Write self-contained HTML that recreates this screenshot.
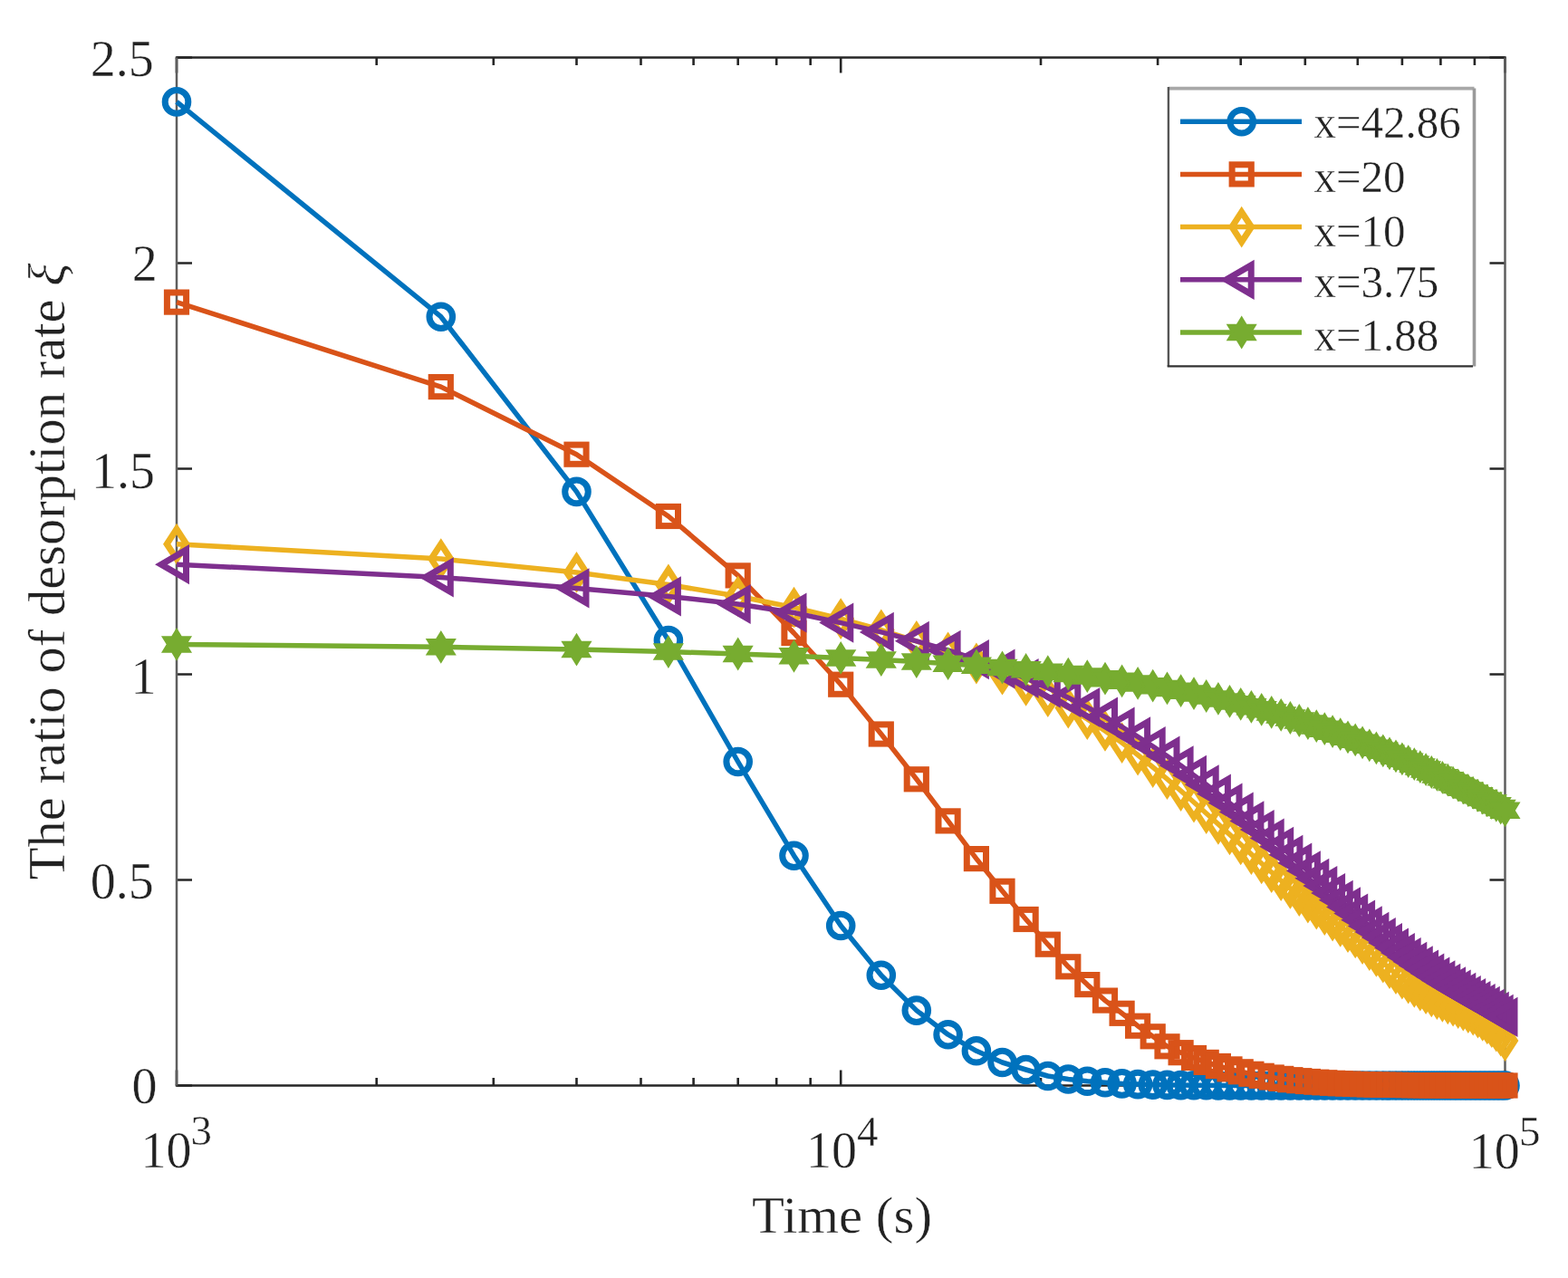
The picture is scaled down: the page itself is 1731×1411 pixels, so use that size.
<!DOCTYPE html>
<html><head><meta charset="utf-8"><title>Ratio of desorption rate vs time</title>
<style>html,body{margin:0;padding:0;background:#fff;overflow:hidden}svg{display:block}
text{font-family:"Liberation Serif","Times New Roman",serif;fill:#222;stroke:#fff;stroke-width:0.4px}</style></head>
<body><svg width="1731" height="1411" viewBox="0 0 1731 1411">
<rect width="1731" height="1411" fill="#fff"/>
<path d="M195 1198.5H212M1661.5 1198.5H1644.5M195 971.5H212M1661.5 971.5H1644.5M195 744.5H212M1661.5 744.5H1644.5M195 517.5H212M1661.5 517.5H1644.5M195 290.5H212M1661.5 290.5H1644.5M195 63.5H212M1661.5 63.5H1644.5M195 1198.5V1181.5M195 63.5V80.5M928.2 1198.5V1181.5M928.2 63.5V80.5M1661.5 1198.5V1181.5M1661.5 63.5V80.5M415.7 1198.5V1190M415.7 63.5V72M544.8 1198.5V1190M544.8 63.5V72M636.5 1198.5V1190M636.5 63.5V72M707.5 1198.5V1190M707.5 63.5V72M765.6 1198.5V1190M765.6 63.5V72M814.7 1198.5V1190M814.7 63.5V72M857.2 1198.5V1190M857.2 63.5V72M894.7 1198.5V1190M894.7 63.5V72M1149 1198.5V1190M1149 63.5V72M1278.1 1198.5V1190M1278.1 63.5V72M1369.7 1198.5V1190M1369.7 63.5V72M1440.8 1198.5V1190M1440.8 63.5V72M1498.8 1198.5V1190M1498.8 63.5V72M1547.9 1198.5V1190M1547.9 63.5V72M1590.4 1198.5V1190M1590.4 63.5V72M1627.9 1198.5V1190M1627.9 63.5V72" stroke="#262626" stroke-width="2.6" fill="none"/>
<path d="M193.8 63.5H1662.7 M193.8 1198.5H1662.7" stroke="#262626" stroke-width="2.5" fill="none"/>
<path d="M195 63.5V1198.5 M1661.5 63.5V1198.5" stroke="#5e5e5e" stroke-width="2.5" fill="none"/>
<g fill="none" stroke="#0072BD" color="#0072BD"><polyline points="195,112.4 486.8,349.7 636.5,542.9 737.9,707 814.7,841 876.5,944.7 928.2,1022 972.8,1076.7 1011.8,1115.6 1046.6,1142.2 1077.9,1160.3 1106.5,1173 1132.6,1181 1156.8,1188 1179.3,1191.5 1200.3,1193.8 1220,1195.3 1238.6,1196.4 1256.1,1197.1 1272.7,1197.6 1288.5,1197.9 1303.6,1198.1 1318,1198.2 1331.7,1198.3 1344.9,1198.4 1357.5,1198.4 1369.7,1198.4 1381.4,1198.5 1392.7,1198.5 1403.7,1198.5 1414.2,1198.5 1424.4,1198.5 1434.3,1198.5 1443.9,1198.5 1453.3,1198.5 1462.3,1198.5 1471.1,1198.5 1479.7,1198.5 1488,1198.5 1496.2,1198.5 1504.1,1198.5 1511.8,1198.5 1519.4,1198.5 1526.8,1198.5 1534,1198.5 1541,1198.5 1547.9,1198.5 1554.7,1198.5 1561.3,1198.5 1567.8,1198.5 1574.1,1198.5 1580.3,1198.5 1586.4,1198.5 1592.4,1198.5 1598.3,1198.5 1604.1,1198.5 1609.7,1198.5 1615.3,1198.5 1620.8,1198.5 1626.2,1198.5 1631.5,1198.5 1636.7,1198.5 1641.8,1198.5 1646.8,1198.5 1651.8,1198.5 1656.7,1198.5 1661.5,1198.5" stroke-width="5.5" stroke-linejoin="round"/><g stroke-width="7.0" stroke-linejoin="miter" stroke-miterlimit="10"><circle cx="195" cy="112.4" r="12.8"/><circle cx="486.8" cy="349.7" r="12.8"/><circle cx="636.5" cy="542.9" r="12.8"/><circle cx="737.9" cy="707" r="12.8"/><circle cx="814.7" cy="841" r="12.8"/><circle cx="876.5" cy="944.7" r="12.8"/><circle cx="928.2" cy="1022" r="12.8"/><circle cx="972.8" cy="1076.7" r="12.8"/><circle cx="1011.8" cy="1115.6" r="12.8"/><circle cx="1046.6" cy="1142.2" r="12.8"/><circle cx="1077.9" cy="1160.3" r="12.8"/><circle cx="1106.5" cy="1173" r="12.8"/><circle cx="1132.6" cy="1181" r="12.8"/><circle cx="1156.8" cy="1188" r="12.8"/><circle cx="1179.3" cy="1191.5" r="12.8"/><circle cx="1200.3" cy="1193.8" r="12.8"/><circle cx="1220" cy="1195.3" r="12.8"/><circle cx="1238.6" cy="1196.4" r="12.8"/><circle cx="1256.1" cy="1197.1" r="12.8"/><circle cx="1272.7" cy="1197.6" r="12.8"/><circle cx="1288.5" cy="1197.9" r="12.8"/><circle cx="1303.6" cy="1198.1" r="12.8"/><circle cx="1318" cy="1198.2" r="12.8"/><circle cx="1331.7" cy="1198.3" r="12.8"/><circle cx="1344.9" cy="1198.4" r="12.8"/><circle cx="1357.5" cy="1198.4" r="12.8"/><circle cx="1369.7" cy="1198.4" r="12.8"/><circle cx="1381.4" cy="1198.5" r="12.8"/><circle cx="1392.7" cy="1198.5" r="12.8"/><circle cx="1403.7" cy="1198.5" r="12.8"/><circle cx="1414.2" cy="1198.5" r="12.8"/><circle cx="1424.4" cy="1198.5" r="12.8"/><circle cx="1434.3" cy="1198.5" r="12.8"/><circle cx="1443.9" cy="1198.5" r="12.8"/><circle cx="1453.3" cy="1198.5" r="12.8"/><circle cx="1462.3" cy="1198.5" r="12.8"/><circle cx="1471.1" cy="1198.5" r="12.8"/><circle cx="1479.7" cy="1198.5" r="12.8"/><circle cx="1488" cy="1198.5" r="12.8"/><circle cx="1496.2" cy="1198.5" r="12.8"/><circle cx="1504.1" cy="1198.5" r="12.8"/><circle cx="1511.8" cy="1198.5" r="12.8"/><circle cx="1519.4" cy="1198.5" r="12.8"/><circle cx="1526.8" cy="1198.5" r="12.8"/><circle cx="1534" cy="1198.5" r="12.8"/><circle cx="1541" cy="1198.5" r="12.8"/><circle cx="1547.9" cy="1198.5" r="12.8"/><circle cx="1554.7" cy="1198.5" r="12.8"/><circle cx="1561.3" cy="1198.5" r="12.8"/><circle cx="1567.8" cy="1198.5" r="12.8"/><circle cx="1574.1" cy="1198.5" r="12.8"/><circle cx="1580.3" cy="1198.5" r="12.8"/><circle cx="1586.4" cy="1198.5" r="12.8"/><circle cx="1592.4" cy="1198.5" r="12.8"/><circle cx="1598.3" cy="1198.5" r="12.8"/><circle cx="1604.1" cy="1198.5" r="12.8"/><circle cx="1609.7" cy="1198.5" r="12.8"/><circle cx="1615.3" cy="1198.5" r="12.8"/><circle cx="1620.8" cy="1198.5" r="12.8"/><circle cx="1626.2" cy="1198.5" r="12.8"/><circle cx="1631.5" cy="1198.5" r="12.8"/><circle cx="1636.7" cy="1198.5" r="12.8"/><circle cx="1641.8" cy="1198.5" r="12.8"/><circle cx="1646.8" cy="1198.5" r="12.8"/><circle cx="1651.8" cy="1198.5" r="12.8"/><circle cx="1656.7" cy="1198.5" r="12.8"/><circle cx="1661.5" cy="1198.5" r="12.8"/></g></g>
<g fill="none" stroke="#D95319" color="#D95319"><polyline points="195,333.6 486.8,427.1 636.5,501.7 737.9,570 814.7,635.4 876.5,699 928.2,755.7 972.8,810.5 1011.8,860.3 1046.6,906.4 1077.9,948.1 1106.5,983.8 1132.6,1015 1156.8,1042.7 1179.3,1067.3 1200.3,1087.1 1220,1104.6 1238.6,1118.8 1256.1,1132.7 1272.7,1144.3 1288.5,1155.3 1303.6,1162.2 1318,1168 1331.7,1172.9 1344.9,1177 1357.5,1180.4 1369.7,1183.3 1381.4,1185.8 1392.7,1187.8 1403.7,1189.5 1414.2,1190.9 1424.4,1192.2 1434.3,1193.2 1443.9,1194 1453.3,1194.7 1462.3,1195.3 1471.1,1195.8 1479.7,1196.3 1488,1196.6 1496.2,1196.9 1504.1,1197.2 1511.8,1197.4 1519.4,1197.6 1526.8,1197.7 1534,1197.8 1541,1197.9 1547.9,1198 1554.7,1198.1 1561.3,1198.2 1567.8,1198.2 1574.1,1198.3 1580.3,1198.3 1586.4,1198.3 1592.4,1198.4 1598.3,1198.4 1604.1,1198.4 1609.7,1198.4 1615.3,1198.4 1620.8,1198.4 1626.2,1198.5 1631.5,1198.5 1636.7,1198.5 1641.8,1198.5 1646.8,1198.5 1651.8,1198.5 1656.7,1198.5 1661.5,1198.5" stroke-width="5.5" stroke-linejoin="round"/><g stroke-width="7.0" stroke-linejoin="miter" stroke-miterlimit="10"><rect x="184.4" y="323" width="21.2" height="21.2"/><rect x="476.2" y="416.5" width="21.2" height="21.2"/><rect x="625.9" y="491.1" width="21.2" height="21.2"/><rect x="727.3" y="559.4" width="21.2" height="21.2"/><rect x="804.1" y="624.8" width="21.2" height="21.2"/><rect x="865.9" y="688.4" width="21.2" height="21.2"/><rect x="917.6" y="745.1" width="21.2" height="21.2"/><rect x="962.2" y="799.9" width="21.2" height="21.2"/><rect x="1001.2" y="849.7" width="21.2" height="21.2"/><rect x="1036" y="895.8" width="21.2" height="21.2"/><rect x="1067.3" y="937.5" width="21.2" height="21.2"/><rect x="1095.9" y="973.2" width="21.2" height="21.2"/><rect x="1122" y="1004.4" width="21.2" height="21.2"/><rect x="1146.2" y="1032.1" width="21.2" height="21.2"/><rect x="1168.7" y="1056.7" width="21.2" height="21.2"/><rect x="1189.7" y="1076.5" width="21.2" height="21.2"/><rect x="1209.4" y="1094" width="21.2" height="21.2"/><rect x="1228" y="1108.2" width="21.2" height="21.2"/><rect x="1245.5" y="1122.1" width="21.2" height="21.2"/><rect x="1262.1" y="1133.7" width="21.2" height="21.2"/><rect x="1277.9" y="1144.7" width="21.2" height="21.2"/><rect x="1293" y="1151.6" width="21.2" height="21.2"/><rect x="1307.4" y="1157.4" width="21.2" height="21.2"/><rect x="1321.1" y="1162.3" width="21.2" height="21.2"/><rect x="1334.3" y="1166.4" width="21.2" height="21.2"/><rect x="1346.9" y="1169.8" width="21.2" height="21.2"/><rect x="1359.1" y="1172.7" width="21.2" height="21.2"/><rect x="1370.8" y="1175.2" width="21.2" height="21.2"/><rect x="1382.1" y="1177.2" width="21.2" height="21.2"/><rect x="1393.1" y="1178.9" width="21.2" height="21.2"/><rect x="1403.6" y="1180.3" width="21.2" height="21.2"/><rect x="1413.8" y="1181.6" width="21.2" height="21.2"/><rect x="1423.7" y="1182.6" width="21.2" height="21.2"/><rect x="1433.3" y="1183.4" width="21.2" height="21.2"/><rect x="1442.7" y="1184.1" width="21.2" height="21.2"/><rect x="1451.7" y="1184.7" width="21.2" height="21.2"/><rect x="1460.5" y="1185.2" width="21.2" height="21.2"/><rect x="1469.1" y="1185.7" width="21.2" height="21.2"/><rect x="1477.4" y="1186" width="21.2" height="21.2"/><rect x="1485.6" y="1186.3" width="21.2" height="21.2"/><rect x="1493.5" y="1186.6" width="21.2" height="21.2"/><rect x="1501.2" y="1186.8" width="21.2" height="21.2"/><rect x="1508.8" y="1187" width="21.2" height="21.2"/><rect x="1516.2" y="1187.1" width="21.2" height="21.2"/><rect x="1523.4" y="1187.2" width="21.2" height="21.2"/><rect x="1530.4" y="1187.3" width="21.2" height="21.2"/><rect x="1537.3" y="1187.4" width="21.2" height="21.2"/><rect x="1544.1" y="1187.5" width="21.2" height="21.2"/><rect x="1550.7" y="1187.6" width="21.2" height="21.2"/><rect x="1557.2" y="1187.6" width="21.2" height="21.2"/><rect x="1563.5" y="1187.7" width="21.2" height="21.2"/><rect x="1569.7" y="1187.7" width="21.2" height="21.2"/><rect x="1575.8" y="1187.7" width="21.2" height="21.2"/><rect x="1581.8" y="1187.8" width="21.2" height="21.2"/><rect x="1587.7" y="1187.8" width="21.2" height="21.2"/><rect x="1593.5" y="1187.8" width="21.2" height="21.2"/><rect x="1599.1" y="1187.8" width="21.2" height="21.2"/><rect x="1604.7" y="1187.8" width="21.2" height="21.2"/><rect x="1610.2" y="1187.8" width="21.2" height="21.2"/><rect x="1615.6" y="1187.9" width="21.2" height="21.2"/><rect x="1620.9" y="1187.9" width="21.2" height="21.2"/><rect x="1626.1" y="1187.9" width="21.2" height="21.2"/><rect x="1631.2" y="1187.9" width="21.2" height="21.2"/><rect x="1636.2" y="1187.9" width="21.2" height="21.2"/><rect x="1641.2" y="1187.9" width="21.2" height="21.2"/><rect x="1646.1" y="1187.9" width="21.2" height="21.2"/><rect x="1650.9" y="1187.9" width="21.2" height="21.2"/></g></g>
<g fill="none" stroke="#EDB120" color="#EDB120"><polyline points="195,600.7 486.8,617.1 636.5,631.9 737.9,645.5 814.7,658.3 876.5,670.7 928.2,683.1 972.8,695.5 1011.8,707.9 1046.6,720.3 1077.9,732.5 1106.5,744.7 1132.6,756.9 1156.8,769.1 1179.3,781.5 1200.3,794 1220,806.9 1238.6,820.1 1256.1,833.5 1272.7,847 1288.5,860.2 1303.6,873.1 1318,885.7 1331.7,898 1344.9,909.9 1357.5,921.4 1369.7,932.4 1381.4,943.1 1392.7,953.3 1403.7,963 1414.2,972.2 1424.4,980.9 1434.3,989 1443.9,996.6 1453.3,1003.6 1462.3,1010.2 1471.1,1016.6 1479.7,1022.8 1488,1029.1 1496.2,1035.4 1504.1,1042.1 1511.8,1049 1519.4,1055.9 1526.8,1062.7 1534,1069.2 1541,1075.2 1547.9,1080.7 1554.7,1085.5 1561.3,1089.8 1567.8,1093.7 1574.1,1097.1 1580.3,1100.3 1586.4,1103.1 1592.4,1105.8 1598.3,1108.3 1604.1,1110.7 1609.7,1113.1 1615.3,1115.5 1620.8,1118.1 1626.2,1120.7 1631.5,1123.6 1636.7,1126.8 1641.8,1130.3 1646.8,1134.2 1651.8,1138.6 1656.7,1143.5 1661.5,1149" stroke-width="5.5" stroke-linejoin="round"/><g stroke-width="7.0" stroke-linejoin="miter" stroke-miterlimit="10"><path d="M195 584.2L205.8 600.7L195 617.2L184.2 600.7Z"/><path d="M486.8 600.6L497.5 617.1L486.8 633.6L476 617.1Z"/><path d="M636.5 615.4L647.2 631.9L636.5 648.4L625.7 631.9Z"/><path d="M737.9 629L748.6 645.5L737.9 662L727.1 645.5Z"/><path d="M814.7 641.8L825.4 658.3L814.7 674.8L803.9 658.3Z"/><path d="M876.5 654.2L887.2 670.7L876.5 687.2L865.7 670.7Z"/><path d="M928.2 666.6L939 683.1L928.2 699.6L917.5 683.1Z"/><path d="M972.8 679L983.5 695.5L972.8 712L962 695.5Z"/><path d="M1011.8 691.4L1022.5 707.9L1011.8 724.4L1001 707.9Z"/><path d="M1046.6 703.8L1057.3 720.3L1046.6 736.8L1035.8 720.3Z"/><path d="M1077.9 716L1088.7 732.5L1077.9 749L1067.2 732.5Z"/><path d="M1106.5 728.2L1117.2 744.7L1106.5 761.2L1095.7 744.7Z"/><path d="M1132.6 740.4L1143.4 756.9L1132.6 773.4L1121.9 756.9Z"/><path d="M1156.8 752.6L1167.6 769.1L1156.8 785.6L1146.1 769.1Z"/><path d="M1179.3 765L1190.1 781.5L1179.3 798L1168.6 781.5Z"/><path d="M1200.3 777.5L1211.1 794L1200.3 810.5L1189.6 794Z"/><path d="M1220 790.4L1230.8 806.9L1220 823.4L1209.3 806.9Z"/><path d="M1238.6 803.6L1249.3 820.1L1238.6 836.6L1227.8 820.1Z"/><path d="M1256.1 817L1266.9 833.5L1256.1 850L1245.4 833.5Z"/><path d="M1272.7 830.5L1283.5 847L1272.7 863.5L1262 847Z"/><path d="M1288.5 843.7L1299.3 860.2L1288.5 876.7L1277.8 860.2Z"/><path d="M1303.6 856.6L1314.3 873.1L1303.6 889.6L1292.8 873.1Z"/><path d="M1318 869.2L1328.7 885.7L1318 902.2L1307.2 885.7Z"/><path d="M1331.7 881.5L1342.5 898L1331.7 914.5L1321 898Z"/><path d="M1344.9 893.4L1355.6 909.9L1344.9 926.4L1334.1 909.9Z"/><path d="M1357.5 904.9L1368.3 921.4L1357.5 937.9L1346.8 921.4Z"/><path d="M1369.7 915.9L1380.5 932.4L1369.7 948.9L1359 932.4Z"/><path d="M1381.4 926.6L1392.2 943.1L1381.4 959.6L1370.7 943.1Z"/><path d="M1392.7 936.8L1403.5 953.3L1392.7 969.8L1382 953.3Z"/><path d="M1403.7 946.5L1414.4 963L1403.7 979.5L1392.9 963Z"/><path d="M1414.2 955.7L1425 972.2L1414.2 988.7L1403.5 972.2Z"/><path d="M1424.4 964.4L1435.2 980.9L1424.4 997.4L1413.7 980.9Z"/><path d="M1434.3 972.5L1445.1 989L1434.3 1005.5L1423.6 989Z"/><path d="M1443.9 980.1L1454.7 996.6L1443.9 1013.1L1433.2 996.6Z"/><path d="M1453.3 987.1L1464 1003.6L1453.3 1020.1L1442.5 1003.6Z"/><path d="M1462.3 993.7L1473.1 1010.2L1462.3 1026.7L1451.6 1010.2Z"/><path d="M1471.1 1000.1L1481.9 1016.6L1471.1 1033.1L1460.4 1016.6Z"/><path d="M1479.7 1006.3L1490.4 1022.8L1479.7 1039.3L1468.9 1022.8Z"/><path d="M1488 1012.6L1498.8 1029.1L1488 1045.6L1477.3 1029.1Z"/><path d="M1496.2 1018.9L1506.9 1035.4L1496.2 1051.9L1485.4 1035.4Z"/><path d="M1504.1 1025.6L1514.8 1042.1L1504.1 1058.6L1493.3 1042.1Z"/><path d="M1511.8 1032.5L1522.6 1049L1511.8 1065.5L1501.1 1049Z"/><path d="M1519.4 1039.4L1530.1 1055.9L1519.4 1072.4L1508.6 1055.9Z"/><path d="M1526.8 1046.2L1537.5 1062.7L1526.8 1079.2L1516 1062.7Z"/><path d="M1534 1052.7L1544.7 1069.2L1534 1085.7L1523.2 1069.2Z"/><path d="M1541 1058.7L1551.8 1075.2L1541 1091.7L1530.3 1075.2Z"/><path d="M1547.9 1064.2L1558.7 1080.7L1547.9 1097.2L1537.2 1080.7Z"/><path d="M1554.7 1069L1565.4 1085.5L1554.7 1102L1543.9 1085.5Z"/><path d="M1561.3 1073.3L1572 1089.8L1561.3 1106.3L1550.5 1089.8Z"/><path d="M1567.8 1077.2L1578.5 1093.7L1567.8 1110.2L1557 1093.7Z"/><path d="M1574.1 1080.6L1584.9 1097.1L1574.1 1113.6L1563.4 1097.1Z"/><path d="M1580.3 1083.8L1591.1 1100.3L1580.3 1116.8L1569.6 1100.3Z"/><path d="M1586.4 1086.6L1597.2 1103.1L1586.4 1119.6L1575.7 1103.1Z"/><path d="M1592.4 1089.3L1603.2 1105.8L1592.4 1122.3L1581.7 1105.8Z"/><path d="M1598.3 1091.8L1609.1 1108.3L1598.3 1124.8L1587.6 1108.3Z"/><path d="M1604.1 1094.2L1614.8 1110.7L1604.1 1127.2L1593.3 1110.7Z"/><path d="M1609.7 1096.6L1620.5 1113.1L1609.7 1129.6L1599 1113.1Z"/><path d="M1615.3 1099L1626.1 1115.5L1615.3 1132L1604.6 1115.5Z"/><path d="M1620.8 1101.6L1631.5 1118.1L1620.8 1134.6L1610 1118.1Z"/><path d="M1626.2 1104.2L1636.9 1120.7L1626.2 1137.2L1615.4 1120.7Z"/><path d="M1631.5 1107.1L1642.2 1123.6L1631.5 1140.1L1620.7 1123.6Z"/><path d="M1636.7 1110.3L1647.4 1126.8L1636.7 1143.3L1625.9 1126.8Z"/><path d="M1641.8 1113.8L1652.5 1130.3L1641.8 1146.8L1631 1130.3Z"/><path d="M1646.8 1117.7L1657.6 1134.2L1646.8 1150.7L1636.1 1134.2Z"/><path d="M1651.8 1122.1L1662.6 1138.6L1651.8 1155.1L1641.1 1138.6Z"/><path d="M1656.7 1127L1667.4 1143.5L1656.7 1160L1645.9 1143.5Z"/><path d="M1661.5 1132.5L1672.2 1149L1661.5 1165.5L1650.8 1149Z"/></g></g>
<g fill="none" stroke="#7E2F8E" color="#7E2F8E"><polyline points="195,623.2 486.8,637.4 636.5,649.4 737.9,658.4 814.7,667 876.5,676.5 928.2,687.6 972.8,697.9 1011.8,707.8 1046.6,717.9 1077.9,728.1 1106.5,738.5 1132.6,749 1156.8,759.6 1179.3,770.2 1200.3,781 1220,791.7 1238.6,802.5 1256.1,813.3 1272.7,824 1288.5,834.7 1303.6,845.3 1318,855.9 1331.7,866.3 1344.9,876.5 1357.5,886.6 1369.7,896.6 1381.4,906.4 1392.7,916 1403.7,925.5 1414.2,934.8 1424.4,943.8 1434.3,952.7 1443.9,961.4 1453.3,969.8 1462.3,978.1 1471.1,986.1 1479.7,993.8 1488,1001.4 1496.2,1008.6 1504.1,1015.7 1511.8,1022.4 1519.4,1028.9 1526.8,1035.1 1534,1041 1541,1046.6 1547.9,1052 1554.7,1057 1561.3,1061.8 1567.8,1066.3 1574.1,1070.6 1580.3,1074.7 1586.4,1078.6 1592.4,1082.4 1598.3,1085.9 1604.1,1089.4 1609.7,1092.7 1615.3,1095.9 1620.8,1099 1626.2,1102 1631.5,1105 1636.7,1108 1641.8,1110.9 1646.8,1113.9 1651.8,1116.8 1656.7,1119.8 1661.5,1122.8" stroke-width="5.5" stroke-linejoin="round"/><g stroke-width="7.0" stroke-linejoin="miter" stroke-miterlimit="10"><path d="M178 623.2L205.5 607.2L205.5 639.2Z"/><path d="M469.8 637.4L497.3 621.4L497.3 653.4Z"/><path d="M619.5 649.4L647 633.4L647 665.4Z"/><path d="M720.9 658.4L748.4 642.4L748.4 674.4Z"/><path d="M797.7 667L825.2 651L825.2 683Z"/><path d="M859.5 676.5L887 660.5L887 692.5Z"/><path d="M911.2 687.6L938.8 671.6L938.8 703.6Z"/><path d="M955.8 697.9L983.3 681.9L983.3 713.9Z"/><path d="M994.8 707.8L1022.3 691.8L1022.3 723.8Z"/><path d="M1029.6 717.9L1057.1 701.9L1057.1 733.9Z"/><path d="M1060.9 728.1L1088.4 712.1L1088.4 744.1Z"/><path d="M1089.5 738.5L1117 722.5L1117 754.5Z"/><path d="M1115.6 749L1143.1 733L1143.1 765Z"/><path d="M1139.8 759.6L1167.3 743.6L1167.3 775.6Z"/><path d="M1162.3 770.2L1189.8 754.2L1189.8 786.2Z"/><path d="M1183.3 781L1210.8 765L1210.8 797Z"/><path d="M1203 791.7L1230.5 775.7L1230.5 807.7Z"/><path d="M1221.6 802.5L1249.1 786.5L1249.1 818.5Z"/><path d="M1239.1 813.3L1266.6 797.3L1266.6 829.3Z"/><path d="M1255.7 824L1283.2 808L1283.2 840Z"/><path d="M1271.5 834.7L1299 818.7L1299 850.7Z"/><path d="M1286.6 845.3L1314.1 829.3L1314.1 861.3Z"/><path d="M1301 855.9L1328.5 839.9L1328.5 871.9Z"/><path d="M1314.7 866.3L1342.2 850.3L1342.2 882.3Z"/><path d="M1327.9 876.5L1355.4 860.5L1355.4 892.5Z"/><path d="M1340.5 886.6L1368 870.6L1368 902.6Z"/><path d="M1352.7 896.6L1380.2 880.6L1380.2 912.6Z"/><path d="M1364.4 906.4L1391.9 890.4L1391.9 922.4Z"/><path d="M1375.7 916L1403.2 900L1403.2 932Z"/><path d="M1386.7 925.5L1414.2 909.5L1414.2 941.5Z"/><path d="M1397.2 934.8L1424.7 918.8L1424.7 950.8Z"/><path d="M1407.4 943.8L1434.9 927.8L1434.9 959.8Z"/><path d="M1417.3 952.7L1444.8 936.7L1444.8 968.7Z"/><path d="M1426.9 961.4L1454.4 945.4L1454.4 977.4Z"/><path d="M1436.3 969.8L1463.8 953.8L1463.8 985.8Z"/><path d="M1445.3 978.1L1472.8 962.1L1472.8 994.1Z"/><path d="M1454.1 986.1L1481.6 970.1L1481.6 1002.1Z"/><path d="M1462.7 993.8L1490.2 977.8L1490.2 1009.8Z"/><path d="M1471 1001.4L1498.5 985.4L1498.5 1017.4Z"/><path d="M1479.2 1008.6L1506.7 992.6L1506.7 1024.6Z"/><path d="M1487.1 1015.7L1514.6 999.7L1514.6 1031.7Z"/><path d="M1494.8 1022.4L1522.3 1006.4L1522.3 1038.4Z"/><path d="M1502.4 1028.9L1529.9 1012.9L1529.9 1044.9Z"/><path d="M1509.8 1035.1L1537.3 1019.1L1537.3 1051.1Z"/><path d="M1517 1041L1544.5 1025L1544.5 1057Z"/><path d="M1524 1046.6L1551.5 1030.6L1551.5 1062.6Z"/><path d="M1530.9 1052L1558.4 1036L1558.4 1068Z"/><path d="M1537.7 1057L1565.2 1041L1565.2 1073Z"/><path d="M1544.3 1061.8L1571.8 1045.8L1571.8 1077.8Z"/><path d="M1550.8 1066.3L1578.3 1050.3L1578.3 1082.3Z"/><path d="M1557.1 1070.6L1584.6 1054.6L1584.6 1086.6Z"/><path d="M1563.3 1074.7L1590.8 1058.7L1590.8 1090.7Z"/><path d="M1569.4 1078.6L1596.9 1062.6L1596.9 1094.6Z"/><path d="M1575.4 1082.4L1602.9 1066.4L1602.9 1098.4Z"/><path d="M1581.3 1085.9L1608.8 1069.9L1608.8 1101.9Z"/><path d="M1587.1 1089.4L1614.6 1073.4L1614.6 1105.4Z"/><path d="M1592.7 1092.7L1620.2 1076.7L1620.2 1108.7Z"/><path d="M1598.3 1095.9L1625.8 1079.9L1625.8 1111.9Z"/><path d="M1603.8 1099L1631.3 1083L1631.3 1115Z"/><path d="M1609.2 1102L1636.7 1086L1636.7 1118Z"/><path d="M1614.5 1105L1642 1089L1642 1121Z"/><path d="M1619.7 1108L1647.2 1092L1647.2 1124Z"/><path d="M1624.8 1110.9L1652.3 1094.9L1652.3 1126.9Z"/><path d="M1629.8 1113.9L1657.3 1097.9L1657.3 1129.9Z"/><path d="M1634.8 1116.8L1662.3 1100.8L1662.3 1132.8Z"/><path d="M1639.7 1119.8L1667.2 1103.8L1667.2 1135.8Z"/><path d="M1644.5 1122.8L1672 1106.8L1672 1138.8Z"/></g></g>
<g fill="none" stroke="#77AC30" color="#77AC30"><polyline points="195,711.4 486.8,714.3 636.5,717.1 737.9,719.6 814.7,722 876.5,724.3 928.2,726.4 972.8,728.5 1011.8,730.6 1046.6,732.7 1077.9,734.8 1106.5,737 1132.6,739.3 1156.8,741.7 1179.3,744.1 1200.3,746.6 1220,749.2 1238.6,751.8 1256.1,754.4 1272.7,757.2 1288.5,759.9 1303.6,762.7 1318,765.6 1331.7,768.5 1344.9,771.4 1357.5,774.4 1369.7,777.3 1381.4,780.3 1392.7,783.3 1403.7,786.4 1414.2,789.4 1424.4,792.5 1434.3,795.5 1443.9,798.6 1453.3,801.6 1462.3,804.7 1471.1,807.7 1479.7,810.7 1488,813.8 1496.2,816.8 1504.1,819.8 1511.8,822.8 1519.4,825.8 1526.8,828.8 1534,831.8 1541,834.8 1547.9,837.8 1554.7,840.7 1561.3,843.7 1567.8,846.6 1574.1,849.6 1580.3,852.5 1586.4,855.4 1592.4,858.3 1598.3,861.2 1604.1,864.1 1609.7,866.9 1615.3,869.8 1620.8,872.6 1626.2,875.4 1631.5,878.3 1636.7,881.1 1641.8,883.8 1646.8,886.6 1651.8,889.3 1656.7,892.1 1661.5,894.8" stroke-width="5.5" stroke-linejoin="round"/><g stroke-width="7.0" stroke-linejoin="miter" stroke-miterlimit="10"><path fill="currentColor" stroke-width="2.5" d="M195 695.4L190.1 703.4L180.2 703.4L185.1 711.4L180.2 719.4L190.1 719.4L195 727.4L199.9 719.4L209.8 719.4L204.9 711.4L209.8 703.4L199.9 703.4Z"/><path fill="currentColor" stroke-width="2.5" d="M486.8 698.3L481.8 706.3L472 706.3L476.9 714.3L472 722.3L481.8 722.3L486.8 730.3L491.7 722.3L501.6 722.3L496.7 714.3L501.6 706.3L491.7 706.3Z"/><path fill="currentColor" stroke-width="2.5" d="M636.5 701.1L631.5 709.1L621.6 709.1L626.6 717.1L621.6 725.1L631.5 725.1L636.5 733.1L641.4 725.1L651.3 725.1L646.3 717.1L651.3 709.1L641.4 709.1Z"/><path fill="currentColor" stroke-width="2.5" d="M737.9 703.6L732.9 711.6L723 711.6L728 719.6L723 727.6L732.9 727.6L737.9 735.6L742.8 727.6L752.7 727.6L747.8 719.6L752.7 711.6L742.8 711.6Z"/><path fill="currentColor" stroke-width="2.5" d="M814.7 706L809.7 714L799.8 714L804.8 722L799.8 730L809.7 730L814.7 738L819.6 730L829.5 730L824.6 722L829.5 714L819.6 714Z"/><path fill="currentColor" stroke-width="2.5" d="M876.5 708.3L871.6 716.3L861.7 716.3L866.6 724.3L861.7 732.3L871.6 732.3L876.5 740.3L881.4 732.3L891.3 732.3L886.4 724.3L891.3 716.3L881.4 716.3Z"/><path fill="currentColor" stroke-width="2.5" d="M928.2 710.4L923.3 718.4L913.4 718.4L918.4 726.4L913.4 734.4L923.3 734.4L928.2 742.4L933.2 734.4L943.1 734.4L938.1 726.4L943.1 718.4L933.2 718.4Z"/><path fill="currentColor" stroke-width="2.5" d="M972.8 712.5L967.8 720.5L957.9 720.5L962.9 728.5L957.9 736.5L967.8 736.5L972.8 744.5L977.7 736.5L987.6 736.5L982.6 728.5L987.6 720.5L977.7 720.5Z"/><path fill="currentColor" stroke-width="2.5" d="M1011.8 714.6L1006.9 722.6L997 722.6L1001.9 730.6L997 738.6L1006.9 738.6L1011.8 746.6L1016.7 738.6L1026.6 738.6L1021.7 730.6L1026.6 722.6L1016.7 722.6Z"/><path fill="currentColor" stroke-width="2.5" d="M1046.6 716.7L1041.6 724.7L1031.7 724.7L1036.7 732.7L1031.7 740.7L1041.6 740.7L1046.6 748.7L1051.5 740.7L1061.4 740.7L1056.5 732.7L1061.4 724.7L1051.5 724.7Z"/><path fill="currentColor" stroke-width="2.5" d="M1077.9 718.8L1073 726.8L1063.1 726.8L1068 734.8L1063.1 742.8L1073 742.8L1077.9 750.8L1082.9 742.8L1092.7 742.8L1087.8 734.8L1092.7 726.8L1082.9 726.8Z"/><path fill="currentColor" stroke-width="2.5" d="M1106.5 721L1101.5 729L1091.6 729L1096.6 737L1091.6 745L1101.5 745L1106.5 753L1111.4 745L1121.3 745L1116.3 737L1121.3 729L1111.4 729Z"/><path fill="currentColor" stroke-width="2.5" d="M1132.6 723.3L1127.7 731.3L1117.8 731.3L1122.8 739.3L1117.8 747.3L1127.7 747.3L1132.6 755.3L1137.6 747.3L1147.5 747.3L1142.5 739.3L1147.5 731.3L1137.6 731.3Z"/><path fill="currentColor" stroke-width="2.5" d="M1156.8 725.7L1151.9 733.7L1142 733.7L1147 741.7L1142 749.7L1151.9 749.7L1156.8 757.7L1161.8 749.7L1171.7 749.7L1166.7 741.7L1171.7 733.7L1161.8 733.7Z"/><path fill="currentColor" stroke-width="2.5" d="M1179.3 728.1L1174.4 736.1L1164.5 736.1L1169.4 744.1L1164.5 752.1L1174.4 752.1L1179.3 760.1L1184.3 752.1L1194.2 752.1L1189.2 744.1L1194.2 736.1L1184.3 736.1Z"/><path fill="currentColor" stroke-width="2.5" d="M1200.3 730.6L1195.4 738.6L1185.5 738.6L1190.5 746.6L1185.5 754.6L1195.4 754.6L1200.3 762.6L1205.3 754.6L1215.2 754.6L1210.2 746.6L1215.2 738.6L1205.3 738.6Z"/><path fill="currentColor" stroke-width="2.5" d="M1220 733.2L1215.1 741.2L1205.2 741.2L1210.2 749.2L1205.2 757.2L1215.1 757.2L1220 765.2L1225 757.2L1234.9 757.2L1229.9 749.2L1234.9 741.2L1225 741.2Z"/><path fill="currentColor" stroke-width="2.5" d="M1238.6 735.8L1233.7 743.8L1223.8 743.8L1228.7 751.8L1223.8 759.8L1233.7 759.8L1238.6 767.8L1243.5 759.8L1253.4 759.8L1248.5 751.8L1253.4 743.8L1243.5 743.8Z"/><path fill="currentColor" stroke-width="2.5" d="M1256.1 738.4L1251.2 746.4L1241.3 746.4L1246.2 754.4L1241.3 762.4L1251.2 762.4L1256.1 770.4L1261.1 762.4L1271 762.4L1266 754.4L1271 746.4L1261.1 746.4Z"/><path fill="currentColor" stroke-width="2.5" d="M1272.7 741.2L1267.8 749.2L1257.9 749.2L1262.9 757.2L1257.9 765.2L1267.8 765.2L1272.7 773.2L1277.7 765.2L1287.6 765.2L1282.6 757.2L1287.6 749.2L1277.7 749.2Z"/><path fill="currentColor" stroke-width="2.5" d="M1288.5 743.9L1283.6 751.9L1273.7 751.9L1278.7 759.9L1273.7 767.9L1283.6 767.9L1288.5 775.9L1293.5 767.9L1303.4 767.9L1298.4 759.9L1303.4 751.9L1293.5 751.9Z"/><path fill="currentColor" stroke-width="2.5" d="M1303.6 746.7L1298.6 754.7L1288.8 754.7L1293.7 762.7L1288.8 770.7L1298.6 770.7L1303.6 778.7L1308.5 770.7L1318.4 770.7L1313.5 762.7L1318.4 754.7L1308.5 754.7Z"/><path fill="currentColor" stroke-width="2.5" d="M1318 749.6L1313 757.6L1303.1 757.6L1308.1 765.6L1303.1 773.6L1313 773.6L1318 781.6L1322.9 773.6L1332.8 773.6L1327.8 765.6L1332.8 757.6L1322.9 757.6Z"/><path fill="currentColor" stroke-width="2.5" d="M1331.7 752.5L1326.8 760.5L1316.9 760.5L1321.8 768.5L1316.9 776.5L1326.8 776.5L1331.7 784.5L1336.6 776.5L1346.5 776.5L1341.6 768.5L1346.5 760.5L1336.6 760.5Z"/><path fill="currentColor" stroke-width="2.5" d="M1344.9 755.4L1339.9 763.4L1330.1 763.4L1335 771.4L1330.1 779.4L1339.9 779.4L1344.9 787.4L1349.8 779.4L1359.7 779.4L1354.8 771.4L1359.7 763.4L1349.8 763.4Z"/><path fill="currentColor" stroke-width="2.5" d="M1357.5 758.4L1352.6 766.4L1342.7 766.4L1347.7 774.4L1342.7 782.4L1352.6 782.4L1357.5 790.4L1362.5 782.4L1372.4 782.4L1367.4 774.4L1372.4 766.4L1362.5 766.4Z"/><path fill="currentColor" stroke-width="2.5" d="M1369.7 761.3L1364.8 769.3L1354.9 769.3L1359.8 777.3L1354.9 785.3L1364.8 785.3L1369.7 793.3L1374.7 785.3L1384.5 785.3L1379.6 777.3L1384.5 769.3L1374.7 769.3Z"/><path fill="currentColor" stroke-width="2.5" d="M1381.4 764.3L1376.5 772.3L1366.6 772.3L1371.5 780.3L1366.6 788.3L1376.5 788.3L1381.4 796.3L1386.4 788.3L1396.3 788.3L1391.3 780.3L1396.3 772.3L1386.4 772.3Z"/><path fill="currentColor" stroke-width="2.5" d="M1392.7 767.3L1387.8 775.3L1377.9 775.3L1382.9 783.3L1377.9 791.3L1387.8 791.3L1392.7 799.3L1397.7 791.3L1407.6 791.3L1402.6 783.3L1407.6 775.3L1397.7 775.3Z"/><path fill="currentColor" stroke-width="2.5" d="M1403.7 770.4L1398.7 778.4L1388.8 778.4L1393.8 786.4L1388.8 794.4L1398.7 794.4L1403.7 802.4L1408.6 794.4L1418.5 794.4L1413.5 786.4L1418.5 778.4L1408.6 778.4Z"/><path fill="currentColor" stroke-width="2.5" d="M1414.2 773.4L1409.3 781.4L1399.4 781.4L1404.3 789.4L1399.4 797.4L1409.3 797.4L1414.2 805.4L1419.2 797.4L1429 797.4L1424.1 789.4L1429 781.4L1419.2 781.4Z"/><path fill="currentColor" stroke-width="2.5" d="M1424.4 776.5L1419.5 784.5L1409.6 784.5L1414.6 792.5L1409.6 800.5L1419.5 800.5L1424.4 808.5L1429.4 800.5L1439.3 800.5L1434.3 792.5L1439.3 784.5L1429.4 784.5Z"/><path fill="currentColor" stroke-width="2.5" d="M1434.3 779.5L1429.4 787.5L1419.5 787.5L1424.5 795.5L1419.5 803.5L1429.4 803.5L1434.3 811.5L1439.3 803.5L1449.2 803.5L1444.2 795.5L1449.2 787.5L1439.3 787.5Z"/><path fill="currentColor" stroke-width="2.5" d="M1443.9 782.6L1439 790.6L1429.1 790.6L1434.1 798.6L1429.1 806.6L1439 806.6L1443.9 814.6L1448.9 806.6L1458.8 806.6L1453.8 798.6L1458.8 790.6L1448.9 790.6Z"/><path fill="currentColor" stroke-width="2.5" d="M1453.3 785.6L1448.3 793.6L1438.4 793.6L1443.4 801.6L1438.4 809.6L1448.3 809.6L1453.3 817.6L1458.2 809.6L1468.1 809.6L1463.1 801.6L1468.1 793.6L1458.2 793.6Z"/><path fill="currentColor" stroke-width="2.5" d="M1462.3 788.7L1457.4 796.7L1447.5 796.7L1452.4 804.7L1447.5 812.7L1457.4 812.7L1462.3 820.7L1467.3 812.7L1477.1 812.7L1472.2 804.7L1477.1 796.7L1467.3 796.7Z"/><path fill="currentColor" stroke-width="2.5" d="M1471.1 791.7L1466.2 799.7L1456.3 799.7L1461.2 807.7L1456.3 815.7L1466.2 815.7L1471.1 823.7L1476.1 815.7L1485.9 815.7L1481 807.7L1485.9 799.7L1476.1 799.7Z"/><path fill="currentColor" stroke-width="2.5" d="M1479.7 794.7L1474.7 802.7L1464.9 802.7L1469.8 810.7L1464.9 818.7L1474.7 818.7L1479.7 826.7L1484.6 818.7L1494.5 818.7L1489.6 810.7L1494.5 802.7L1484.6 802.7Z"/><path fill="currentColor" stroke-width="2.5" d="M1488 797.8L1483.1 805.8L1473.2 805.8L1478.1 813.8L1473.2 821.8L1483.1 821.8L1488 829.8L1493 821.8L1502.9 821.8L1497.9 813.8L1502.9 805.8L1493 805.8Z"/><path fill="currentColor" stroke-width="2.5" d="M1496.2 800.8L1491.2 808.8L1481.3 808.8L1486.3 816.8L1481.3 824.8L1491.2 824.8L1496.2 832.8L1501.1 824.8L1511 824.8L1506 816.8L1511 808.8L1501.1 808.8Z"/><path fill="currentColor" stroke-width="2.5" d="M1504.1 803.8L1499.2 811.8L1489.3 811.8L1494.2 819.8L1489.3 827.8L1499.2 827.8L1504.1 835.8L1509 827.8L1518.9 827.8L1514 819.8L1518.9 811.8L1509 811.8Z"/><path fill="currentColor" stroke-width="2.5" d="M1511.8 806.8L1506.9 814.8L1497 814.8L1501.9 822.8L1497 830.8L1506.9 830.8L1511.8 838.8L1516.8 830.8L1526.7 830.8L1521.7 822.8L1526.7 814.8L1516.8 814.8Z"/><path fill="currentColor" stroke-width="2.5" d="M1519.4 809.8L1514.4 817.8L1504.6 817.8L1509.5 825.8L1504.6 833.8L1514.4 833.8L1519.4 841.8L1524.3 833.8L1534.2 833.8L1529.3 825.8L1534.2 817.8L1524.3 817.8Z"/><path fill="currentColor" stroke-width="2.5" d="M1526.8 812.8L1521.8 820.8L1511.9 820.8L1516.9 828.8L1511.9 836.8L1521.8 836.8L1526.8 844.8L1531.7 836.8L1541.6 836.8L1536.6 828.8L1541.6 820.8L1531.7 820.8Z"/><path fill="currentColor" stroke-width="2.5" d="M1534 815.8L1529 823.8L1519.1 823.8L1524.1 831.8L1519.1 839.8L1529 839.8L1534 847.8L1538.9 839.8L1548.8 839.8L1543.9 831.8L1548.8 823.8L1538.9 823.8Z"/><path fill="currentColor" stroke-width="2.5" d="M1541 818.8L1536.1 826.8L1526.2 826.8L1531.1 834.8L1526.2 842.8L1536.1 842.8L1541 850.8L1546 842.8L1555.8 842.8L1550.9 834.8L1555.8 826.8L1546 826.8Z"/><path fill="currentColor" stroke-width="2.5" d="M1547.9 821.8L1543 829.8L1533.1 829.8L1538 837.8L1533.1 845.8L1543 845.8L1547.9 853.8L1552.9 845.8L1562.7 845.8L1557.8 837.8L1562.7 829.8L1552.9 829.8Z"/><path fill="currentColor" stroke-width="2.5" d="M1554.7 824.7L1549.7 832.7L1539.8 832.7L1544.8 840.7L1539.8 848.7L1549.7 848.7L1554.7 856.7L1559.6 848.7L1569.5 848.7L1564.6 840.7L1569.5 832.7L1559.6 832.7Z"/><path fill="currentColor" stroke-width="2.5" d="M1561.3 827.7L1556.3 835.7L1546.5 835.7L1551.4 843.7L1546.5 851.7L1556.3 851.7L1561.3 859.7L1566.2 851.7L1576.1 851.7L1571.2 843.7L1576.1 835.7L1566.2 835.7Z"/><path fill="currentColor" stroke-width="2.5" d="M1567.8 830.6L1562.8 838.6L1552.9 838.6L1557.9 846.6L1552.9 854.6L1562.8 854.6L1567.8 862.6L1572.7 854.6L1582.6 854.6L1577.6 846.6L1582.6 838.6L1572.7 838.6Z"/><path fill="currentColor" stroke-width="2.5" d="M1574.1 833.6L1569.2 841.6L1559.3 841.6L1564.2 849.6L1559.3 857.6L1569.2 857.6L1574.1 865.6L1579 857.6L1588.9 857.6L1584 849.6L1588.9 841.6L1579 841.6Z"/><path fill="currentColor" stroke-width="2.5" d="M1580.3 836.5L1575.4 844.5L1565.5 844.5L1570.4 852.5L1565.5 860.5L1575.4 860.5L1580.3 868.5L1585.3 860.5L1595.2 860.5L1590.2 852.5L1595.2 844.5L1585.3 844.5Z"/><path fill="currentColor" stroke-width="2.5" d="M1586.4 839.4L1581.5 847.4L1571.6 847.4L1576.6 855.4L1571.6 863.4L1581.5 863.4L1586.4 871.4L1591.4 863.4L1601.3 863.4L1596.3 855.4L1601.3 847.4L1591.4 847.4Z"/><path fill="currentColor" stroke-width="2.5" d="M1592.4 842.3L1587.5 850.3L1577.6 850.3L1582.5 858.3L1577.6 866.3L1587.5 866.3L1592.4 874.3L1597.4 866.3L1607.3 866.3L1602.3 858.3L1607.3 850.3L1597.4 850.3Z"/><path fill="currentColor" stroke-width="2.5" d="M1598.3 845.2L1593.4 853.2L1583.5 853.2L1588.4 861.2L1583.5 869.2L1593.4 869.2L1598.3 877.2L1603.2 869.2L1613.1 869.2L1608.2 861.2L1613.1 853.2L1603.2 853.2Z"/><path fill="currentColor" stroke-width="2.5" d="M1604.1 848.1L1599.1 856.1L1589.3 856.1L1594.2 864.1L1589.3 872.1L1599.1 872.1L1604.1 880.1L1609 872.1L1618.9 872.1L1614 864.1L1618.9 856.1L1609 856.1Z"/><path fill="currentColor" stroke-width="2.5" d="M1609.7 850.9L1604.8 858.9L1594.9 858.9L1599.9 866.9L1594.9 874.9L1604.8 874.9L1609.7 882.9L1614.7 874.9L1624.6 874.9L1619.6 866.9L1624.6 858.9L1614.7 858.9Z"/><path fill="currentColor" stroke-width="2.5" d="M1615.3 853.8L1610.4 861.8L1600.5 861.8L1605.4 869.8L1600.5 877.8L1610.4 877.8L1615.3 885.8L1620.3 877.8L1630.1 877.8L1625.2 869.8L1630.1 861.8L1620.3 861.8Z"/><path fill="currentColor" stroke-width="2.5" d="M1620.8 856.6L1615.8 864.6L1606 864.6L1610.9 872.6L1606 880.6L1615.8 880.6L1620.8 888.6L1625.7 880.6L1635.6 880.6L1630.7 872.6L1635.6 864.6L1625.7 864.6Z"/><path fill="currentColor" stroke-width="2.5" d="M1626.2 859.4L1621.2 867.4L1611.3 867.4L1616.3 875.4L1611.3 883.4L1621.2 883.4L1626.2 891.4L1631.1 883.4L1641 883.4L1636.1 875.4L1641 867.4L1631.1 867.4Z"/><path fill="currentColor" stroke-width="2.5" d="M1631.5 862.3L1626.5 870.3L1616.6 870.3L1621.6 878.3L1616.6 886.3L1626.5 886.3L1631.5 894.3L1636.4 886.3L1646.3 886.3L1641.4 878.3L1646.3 870.3L1636.4 870.3Z"/><path fill="currentColor" stroke-width="2.5" d="M1636.7 865.1L1631.7 873.1L1621.8 873.1L1626.8 881.1L1621.8 889.1L1631.7 889.1L1636.7 897.1L1641.6 889.1L1651.5 889.1L1646.6 881.1L1651.5 873.1L1641.6 873.1Z"/><path fill="currentColor" stroke-width="2.5" d="M1641.8 867.8L1636.9 875.8L1627 875.8L1631.9 883.8L1627 891.8L1636.9 891.8L1641.8 899.8L1646.7 891.8L1656.6 891.8L1651.7 883.8L1656.6 875.8L1646.7 875.8Z"/><path fill="currentColor" stroke-width="2.5" d="M1646.8 870.6L1641.9 878.6L1632 878.6L1637 886.6L1632 894.6L1641.9 894.6L1646.8 902.6L1651.8 894.6L1661.7 894.6L1656.7 886.6L1661.7 878.6L1651.8 878.6Z"/><path fill="currentColor" stroke-width="2.5" d="M1651.8 873.3L1646.9 881.3L1637 881.3L1641.9 889.3L1637 897.3L1646.9 897.3L1651.8 905.3L1656.7 897.3L1666.6 897.3L1661.7 889.3L1666.6 881.3L1656.7 881.3Z"/><path fill="currentColor" stroke-width="2.5" d="M1656.7 876.1L1651.7 884.1L1641.9 884.1L1646.8 892.1L1641.9 900.1L1651.7 900.1L1656.7 908.1L1661.6 900.1L1671.5 900.1L1666.6 892.1L1671.5 884.1L1661.6 884.1Z"/><path fill="currentColor" stroke-width="2.5" d="M1661.5 878.8L1656.6 886.8L1646.7 886.8L1651.6 894.8L1646.7 902.8L1656.6 902.8L1661.5 910.8L1666.4 902.8L1676.3 902.8L1671.4 894.8L1676.3 886.8L1666.4 886.8Z"/></g></g>
<text x="99.8" y="83.5" font-size="56">2.5</text>
<text x="145.8" y="310.3" font-size="56">2</text>
<text x="101" y="539.4" font-size="56">1.5</text>
<text x="144.5" y="765.8" font-size="56">1</text>
<text x="99.8" y="991.5" font-size="56">0.5</text>
<text x="145.5" y="1218" font-size="56">0</text>
<text x="155.6" y="1289.4" font-size="56">10</text>
<text x="210.5" y="1264.2" font-size="47">3</text>
<text x="890.1" y="1289.2" font-size="56">10</text>
<text x="946.1" y="1264.8" font-size="47">4</text>
<text x="1621.8" y="1289.6" font-size="56">10</text>
<text x="1676.9" y="1265.2" font-size="47">5</text>
<text x="830" y="1360.6" font-size="56" textLength="199" lengthAdjust="spacingAndGlyphs">Time (s)</text>
<text transform="translate(71 971.2) rotate(-90)" x="0" y="0" font-size="56" textLength="680.5" lengthAdjust="spacingAndGlyphs">The ratio of desorption rate <tspan font-style="italic">ξ</tspan></text>
<rect x="1289.9" y="97.6" width="337.6" height="306.8" fill="#fff"/>
<path d="M1289.9 97.6H1627.5" stroke="#a8a8a8" stroke-width="3.6" fill="none"/>
<path d="M1627.5 97.6V404.4" stroke="#9a9a9a" stroke-width="3.6" fill="none"/>
<path d="M1289.9 96.1V404.4" stroke="#555" stroke-width="2.4" fill="none"/>
<path d="M1288.7 404.4H1626" stroke="#333" stroke-width="2.4" fill="none"/>
<g fill="none" color="#0072BD" stroke="#0072BD"><path d="M1303 134.2H1437" stroke-width="5.5"/><g stroke-width="7.0" stroke-linejoin="miter"><circle cx="1370.7" cy="134.2" r="12.8"/></g></g>
<text x="1450.4" y="151.6" font-size="50" textLength="162.4" lengthAdjust="spacingAndGlyphs">x=42.86</text>
<g fill="none" color="#D95319" stroke="#D95319"><path d="M1303 192.4H1437" stroke-width="5.5"/><g stroke-width="7.0" stroke-linejoin="miter"><rect x="1360.1" y="181.8" width="21.2" height="21.2"/></g></g>
<text x="1450.4" y="211.6" font-size="50" textLength="101.1" lengthAdjust="spacingAndGlyphs">x=20</text>
<g fill="none" color="#EDB120" stroke="#EDB120"><path d="M1303 250.6H1437" stroke-width="5.5"/><g stroke-width="7.0" stroke-linejoin="miter"><path d="M1370.7 234.1L1381.5 250.6L1370.7 267.1L1360 250.6Z"/></g></g>
<text x="1450.4" y="271.5" font-size="50" textLength="101.1" lengthAdjust="spacingAndGlyphs">x=10</text>
<g fill="none" color="#7E2F8E" stroke="#7E2F8E"><path d="M1303 308.8H1437" stroke-width="5.5"/><g stroke-width="7.0" stroke-linejoin="miter"><path d="M1353.7 308.8L1381.2 292.8L1381.2 324.8Z"/></g></g>
<text x="1450.4" y="328.2" font-size="50" textLength="137.9" lengthAdjust="spacingAndGlyphs">x=3.75</text>
<g fill="none" color="#77AC30" stroke="#77AC30"><path d="M1303 367H1437" stroke-width="5.5"/><g stroke-width="7.0" stroke-linejoin="miter"><path fill="currentColor" stroke-width="2.5" d="M1370.7 351L1365.8 359L1355.9 359L1360.8 367L1355.9 375L1365.8 375L1370.7 383L1375.6 375L1385.5 375L1380.6 367L1385.5 359L1375.6 359Z"/></g></g>
<text x="1450.4" y="387" font-size="50" textLength="137.9" lengthAdjust="spacingAndGlyphs">x=1.88</text>
</svg></body></html>
